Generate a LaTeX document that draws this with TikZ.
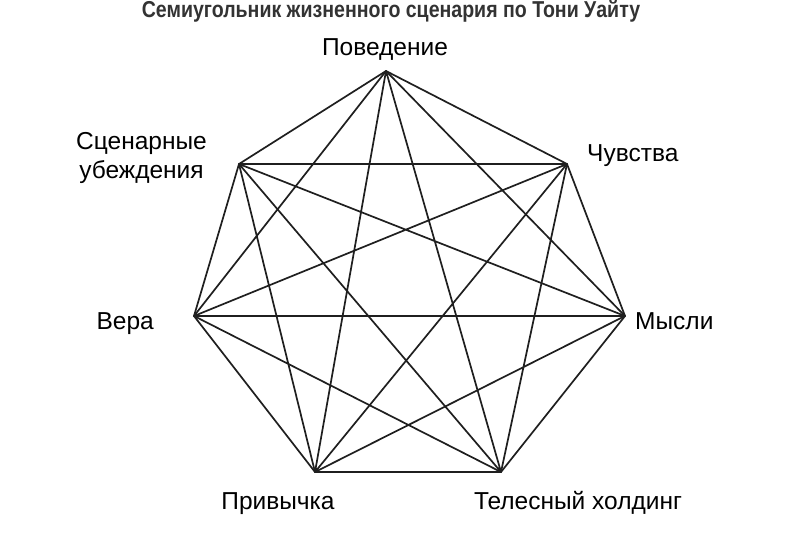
\documentclass[tikz,border=0pt]{standalone}
\usepackage{fontspec}
\setmainfont{Liberation Sans}
\usepackage{tikz}
\usetikzlibrary{calc}

\begin{document}
\begin{tikzpicture}[x=1pt,y=-1pt,
        link/.style={line width=1.7pt,line join=round,draw=black!88},
        lab/.style={font=\fontsize{24.5}{29}\selectfont,inner sep=0pt}]
        % Page frame
        \useasboundingbox[fill=white] (0,0) rectangle (800,540);
        % Vertices of the heptagon
        \coordinate (Beh) at (386,71);  % Поведение
        \coordinate (Feel) at (567,164); % Чувства
        \coordinate (Thou) at (625,316); % Мысли
        \coordinate (Body) at (501,472); % Телесный холдинг
        \coordinate (Hab) at (315,472);  % Привычка
        \coordinate (Bel) at (194,316);  % Вера
        \coordinate (Scr) at (239,164);  % Сценарные убеждения
        % Drawing the heptagon and both stars (all 21 links)
        \draw[link] (Beh) -- (Feel) -- (Thou) -- (Body) -- (Hab) -- (Bel) -- (Scr) -- cycle;
        \draw[link] (Beh) -- (Thou) -- (Hab) -- (Scr) -- (Feel) -- (Body) -- (Bel) -- cycle;
        \draw[link] (Beh) -- (Body) -- (Scr) -- (Thou) -- (Bel) -- (Feel) -- (Hab) -- cycle;
        % Title at the top edge
        \node[font=\bfseries\fontsize{23}{23}\selectfont,anchor=base,inner sep=0pt,text=black!80] (title) at (391,18) {\scalebox{0.85}[1]{Семиугольник жизненного сценария по Тони Уайту}};
        % Labels of the vertices
        \node[lab,anchor=base] (lBeh) at ($(Beh)+(-1,-15)$) {Поведение};
        \node[lab,anchor=base west] (lFeel) at ($(Feel)+(20,-2)$) {Чувства};
        \node[lab,anchor=base west] (lThou) at ($(Thou)+(10,13)$) {Мысли};
        \node[lab,anchor=base] (lBody) at ($(Body)+(77,37)$) {Телесный холдинг};
        \node[lab,anchor=base] (lHab) at ($(Hab)+(-37,37)$) {Привычка};
        \node[lab,anchor=base east] (lBel) at ($(Bel)+(-40,13)$) {Вера};
        \node[lab,anchor=east,align=center] (lScr) at ($(Scr)+(-32,-6)$) {Сценарные\\убеждения};
    \end{tikzpicture}
\end{document}
